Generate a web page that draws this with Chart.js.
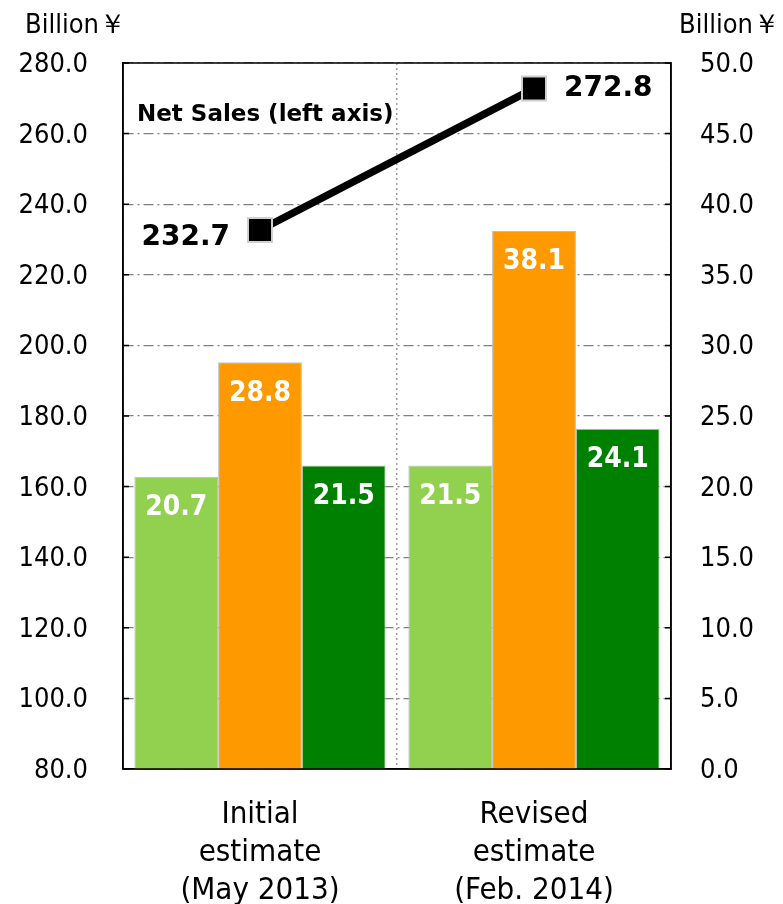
<!DOCTYPE html>
<html>
<head>
<meta charset="utf-8">
<script src="https://cdn.jsdelivr.net/npm/chart.js@4.4.1/dist/chart.umd.min.js"></script>
<style>
  html, body { margin: 0; padding: 0; background: #fff; }
  #wrap { width: 783px; height: 904px; }
</style>
</head>
<body>
<div id="wrap"><canvas id="chart"></canvas></div>
<script>
// values
const categories = [
  ['Initial', 'estimate', '(May 2013)'],
  ['Revised', 'estimate', '(Feb. 2014)']
];
const netSales = [232.7, 272.8];          // left axis
const barSeriesA = [20.7, 21.5];          // right axis, light green
const barSeriesB = [28.8, 38.1];          // right axis, orange
const barSeriesC = [21.5, 24.1];          // right axis, dark green
const leftTicks = [80, 280, 20];          // min, max, step
const rightTicks = [0, 50, 5];

const FONT = '"DejaVu Sans Condensed", "DejaVu Sans", sans-serif';
const WIDE = '"DejaVu Sans", sans-serif';

const labelsPlugin = {
  id: 'labels',
  afterDatasetsDraw(chart) {
    const ctx = chart.ctx;
    const area = chart.chartArea;
    ctx.save();

    // frame + inward tick marks
    ctx.strokeStyle = '#000';
    ctx.lineWidth = 1.5;
    ctx.strokeRect(area.left, area.top, area.right - area.left, area.bottom - area.top);
    chart.scales.y.ticks.forEach((t, i) => {
      const y = chart.scales.y.getPixelForTick(i);
      ctx.beginPath();
      ctx.moveTo(area.left, y); ctx.lineTo(area.left + 6, y);
      ctx.moveTo(area.right, y); ctx.lineTo(area.right - 6, y);
      ctx.stroke();
    });

    // bar value labels
    ctx.fillStyle = '#fff';
    ctx.font = 'bold 28px ' + FONT;
    ctx.textAlign = 'center';
    ctx.textBaseline = 'middle';
    [1, 2, 3].forEach(di => {
      const meta = chart.getDatasetMeta(di);
      meta.data.forEach((bar, i) => {
        const v = chart.data.datasets[di].data[i];
        ctx.fillText(v.toFixed(1), bar.x, bar.y + 31);
      });
    });

    // line labels
    const lm = chart.getDatasetMeta(0);
    ctx.fillStyle = '#000';
    ctx.font = 'bold 28px ' + WIDE;
    ctx.textAlign = 'right';
    ctx.fillText(netSales[0].toFixed(1), lm.data[0].x - 30, lm.data[0].y + 8);
    ctx.textAlign = 'left';
    ctx.fillText(netSales[1].toFixed(1), lm.data[1].x + 30, lm.data[1].y);

    ctx.font = 'bold 23px ' + WIDE;
    ctx.fillText('Net Sales (left axis)', area.left + 14, 115);

    // unit labels
    ctx.font = '27px ' + FONT;
    ctx.textAlign = 'left';
    ctx.fillText('Billion￥', 25, 26);
    ctx.textAlign = 'right';
    ctx.fillText('Billion￥', 780, 26);
    ctx.restore();
  }
};

new Chart(document.getElementById('chart'), {
  data: {
    labels: categories,
    datasets: [
      {
        type: 'line', yAxisID: 'y', data: netSales,
        borderColor: '#000', borderWidth: 7.5,
        pointStyle: 'rect', pointRadius: 17,
        pointBackgroundColor: '#000', pointBorderColor: '#d0d0d0', pointBorderWidth: 2
      },
      { type: 'bar', yAxisID: 'y1', data: barSeriesA, backgroundColor: '#92d050', borderColor: '#bfbfbf', borderWidth: 1 },
      { type: 'bar', yAxisID: 'y1', data: barSeriesB, backgroundColor: '#ff9900', borderColor: '#bfbfbf', borderWidth: 1 },
      { type: 'bar', yAxisID: 'y1', data: barSeriesC, backgroundColor: '#008000', borderColor: '#bfbfbf', borderWidth: 1 }
    ]
  },
  options: {
    responsive: true,
    maintainAspectRatio: false,
    animation: false,
    layout: { padding: { top: 63, left: 0, right: 0, bottom: 0 } },
    datasets: { bar: { categoryPercentage: 0.917, barPercentage: 1.0 } },
    plugins: { legend: { display: false }, tooltip: { enabled: false } },
    scales: {
      x: {
        offset: true,
        grid: { offset: true, color: '#999', drawTicks: false, lineWidth: 1.5 },
        border: { color: '#000', width: 1.5, dash: [2, 3] },
        ticks: { color: '#000', padding: 27, font: { family: FONT, size: 31, lineHeight: 1.23 } },
        afterFit(s) { s.height = 135; }
      },
      y: {
        position: 'left', min: leftTicks[0], max: leftTicks[1],
        grid: { color: '#808080', drawTicks: false, lineWidth: 1.2 },
        border: { color: '#000', width: 1.5, dash: [10, 4, 2, 4] },
        ticks: { stepSize: leftTicks[2], color: '#000', padding: 35, labelOffset: 2,
                 font: { family: FONT, size: 27 }, callback: v => v.toFixed(1) },
        afterFit(s) { s.width = 123; }
      },
      y1: {
        position: 'right', min: rightTicks[0], max: rightTicks[1],
        grid: { display: false, drawTicks: false },
        border: { color: '#000', width: 1.5 },
        ticks: { stepSize: rightTicks[2], color: '#000', padding: 29, labelOffset: 2,
                 font: { family: FONT, size: 27 }, callback: v => v.toFixed(1) },
        afterFit(s) { s.width = 112; }
      }
    }
  },
  plugins: [labelsPlugin]
});
</script>
</body>
</html>
